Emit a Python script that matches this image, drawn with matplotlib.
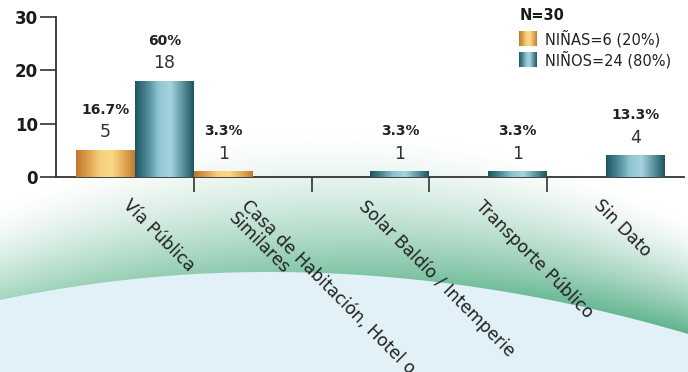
import numpy as np
import matplotlib
matplotlib.use('Agg')
import matplotlib.pyplot as plt
from matplotlib.colors import LinearSegmentedColormap, to_rgb
from matplotlib.transforms import offset_copy

# ---- data ----
categories = ["Vía Pública", "Casa de Habitación, Hotel o\nSimilares",
              "Solar Baldío / Intemperie", "Transporte Público", "Sin Dato"]
ninas = [5, 1, 0, 0, 0]
ninos = [18, 0, 1, 1, 4]
total_n = 30
legend_title = "N=30"
series_labels = ["NIÑAS=6 (20%)", "NIÑOS=24 (80%)"]
yticks = [0, 10, 20, 30]

W, H = 688, 372
fig = plt.figure(figsize=(W / 100, H / 100), dpi=100)

# ---- background ----
bg = fig.add_axes([0, 0, 1, 1], zorder=-5)
xx, yy = np.meshgrid(np.arange(W) + 0.5, np.arange(H) + 0.5)
peak = 268.0
yb = np.where(xx < peak, 272 + 28 / peak**2 * (xx - peak)**2,
              272 + 62 / (W - peak)**2 * (xx - peak)**2)
yu = 130 + 7.0e-4 * (xx - 330)**2
t = np.clip((yy - yu) / (yb - yu), 0, 1) ** 1.5
gl = np.array(to_rgb('#a4d6bf'))
gr = np.array(to_rgb('#5fb38e'))
fx = (xx / W)[..., None]
G = gl * (1 - fx) + gr * fx
white = np.array([1.0, 1.0, 1.0])
img = white * (1 - t[..., None]) + G * t[..., None]
blue = np.array(to_rgb('#e2f1f7'))
a = np.clip(yy - yb + 0.5, 0, 1)[..., None]
img = img * (1 - a) + blue * a
bg.imshow(img, extent=[0, W, H, 0], aspect='auto', interpolation='bilinear')
bg.set_xlim(0, W)
bg.set_ylim(H, 0)
bg.axis('off')

# ---- main axes ----
ax = fig.add_axes([56 / W, (H - 177) / H, (684 - 56) / W, 160 / H])
ax.set_facecolor('none')
x = np.arange(len(categories))
bw = 0.5
b1 = ax.bar(x - bw / 2, ninas, width=bw, color='#e0a050', zorder=2)
b2 = ax.bar(x + bw / 2, ninos, width=bw, color='#4f8c98', zorder=2)

cm_or = LinearSegmentedColormap.from_list(
    'or', ['#c0762c', '#dc9e4c', '#f6cf7c', '#fbd988', '#e6ae5c', '#c47a2e'])
cm_te = LinearSegmentedColormap.from_list(
    'te', ['#1c5561', '#4d8794', '#8fc3d0', '#a6d4e1', '#5f96a2', '#1c5561'])
grad = np.linspace(0, 1, 256)[None, :]
for bars, cm in ((b1, cm_or), (b2, cm_te)):
    for p in bars:
        if p.get_height() <= 0:
            p.set_visible(False)
            continue
        x0, y0 = p.get_x(), p.get_y()
        w, h = p.get_width(), p.get_height()
        ax.imshow(grad, extent=[x0, x0 + w, y0, y0 + h], aspect='auto',
                  cmap=cm, zorder=2.5, interpolation='bilinear')
        p.set_visible(False)

ax.set_xlim(-0.5 - 20 / 118, 4.5 + 19 / 118)
ax.set_ylim(0, 30)

# value labels
for bars, vals in ((b1, ninas), (b2, ninos)):
    for p, v in zip(bars, vals):
        if v <= 0:
            continue
        cx = p.get_x() + p.get_width() / 2
        pct = f"{v / total_n * 100:.1f}".rstrip('0').rstrip('.') + "%"
        ax.annotate(str(v), xy=(cx, v), xytext=(0, 13), textcoords='offset points',
                    ha='center', va='center', fontsize=12.5, color='#333333')
        ax.annotate(pct, xy=(cx, v), xytext=(0, 29), textcoords='offset points',
                    ha='center', va='center', fontsize=10, fontweight='bold',
                    color='#222222')

# spines / ticks
for s in ('top', 'right'):
    ax.spines[s].set_visible(False)
for s in ('left', 'bottom'):
    ax.spines[s].set_color('#333333')
    ax.spines[s].set_linewidth(1.3)
    ax.spines[s].set_zorder(1)
ax.set_yticks(yticks)
ax.tick_params(axis='y', direction='out', length=11.5, width=1.2, color='#333333',
               pad=1.5, labelsize=12)
for lab in ax.get_yticklabels():
    lab.set_fontweight('bold')
    lab.set_color('#1a1a1a')
ax.set_xticks(x[:-1] + 0.5)
ax.set_xticklabels([])
ax.tick_params(axis='x', direction='out', length=11, width=1.2, color='#333333')

# category labels
tr = offset_copy(ax.transData, fig=fig, x=-2.0, y=-14.0, units='points')
for k, c in enumerate(categories):
    ax.text(k, 0, c, transform=tr, rotation=-45, rotation_mode='anchor',
            ha='left', va='top', fontsize=12.3, color='#222222',
            multialignment='left', linespacing=0.95)

# legend
fig.text(520 / W, 1 - 16 / H, legend_title, fontsize=10.5, fontweight='bold',
         color='#1a1a1a', ha='left', va='center')
for i, (lab, cm) in enumerate(zip(series_labels, (cm_or, cm_te))):
    top = 31 + i * 21
    lax = fig.add_axes([519 / W, 1 - (top + 15.5) / H, 18 / W, 15.5 / H])
    lax.imshow(grad, aspect='auto', cmap=cm, interpolation='bilinear')
    lax.axis('off')
    fig.text(545 / W, 1 - (top + 8) / H, lab, fontsize=10.5, color='#222222',
             ha='left', va='center')

fig.savefig('out.png', dpi=100)
